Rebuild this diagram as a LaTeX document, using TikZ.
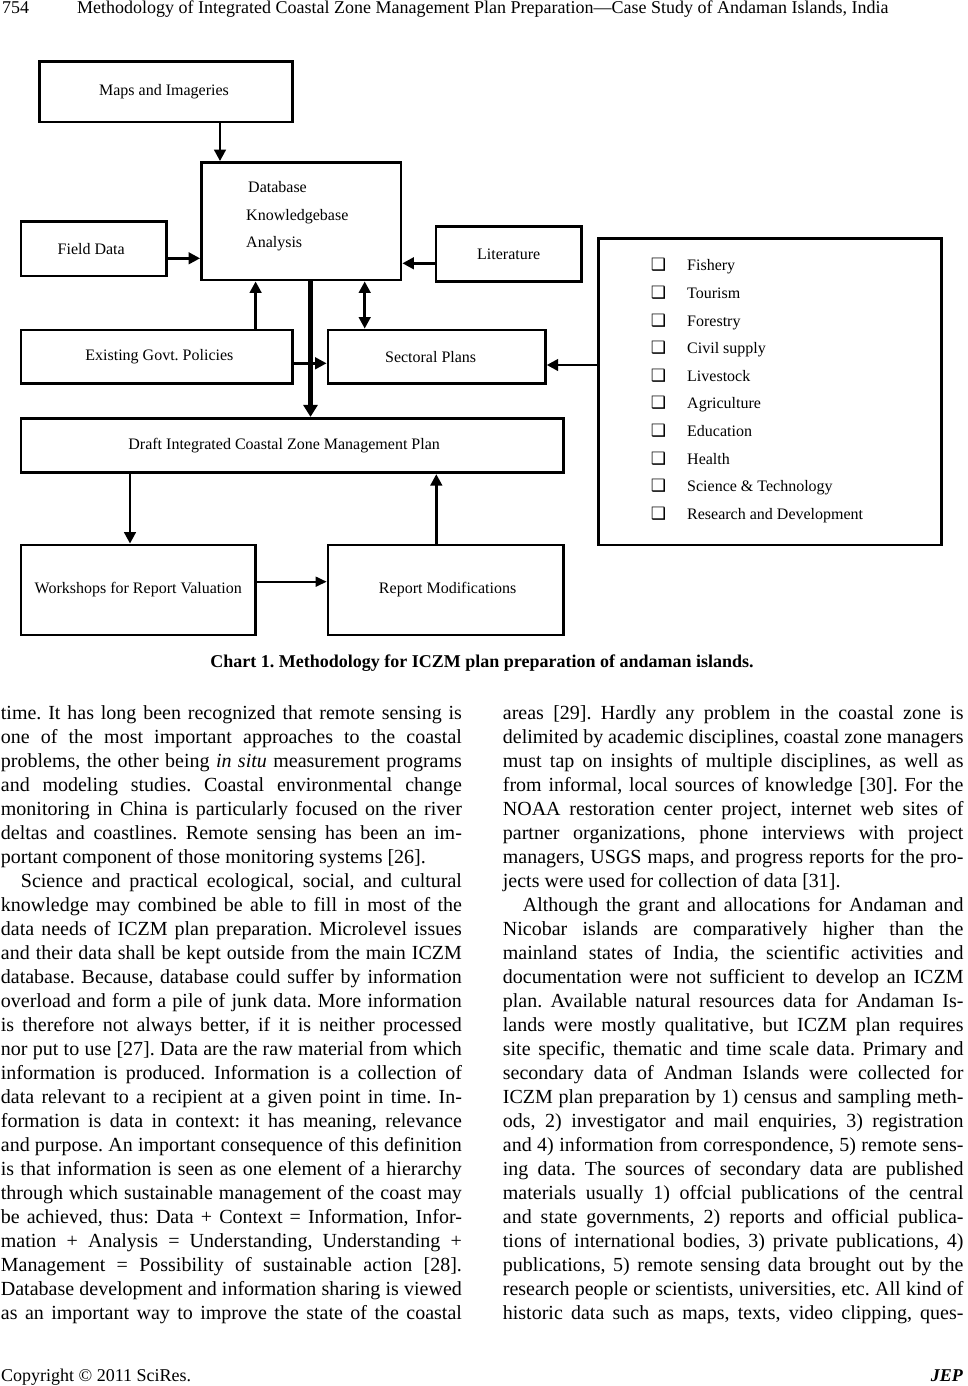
\documentclass[tikz,border=0pt]{standalone}
\usepackage{fontspec}
\setmainfont{Liberation Serif}
\newfontfamily\dejavu{DejaVu Sans}
\usetikzlibrary{arrows.meta}
\frenchspacing
\newcommand\JL[1]{\hbox to\hsize{#1}}
\newcommand\EL[1]{\hbox{#1}}
\newcommand\IL[1]{\hbox to\hsize{\hskip20pt #1}}
\tikzset{
  box/.style={draw, line width=2.8pt, inner sep=0pt, font=\fontsize{16}{18}\selectfont},
  arr/.style={line width=2.8pt, -{Triangle[length=11.5pt,width=11.5pt]}},
  darr/.style={line width=2.8pt, {Triangle[length=11.5pt,width=11.5pt]}-{Triangle[length=11.5pt,width=11.5pt]}},
  thickarr/.style={line width=5.4pt, -{Triangle[length=12pt,width=14pt]}},
  thinarr/.style={line width=1.8pt, -{Triangle[length=11pt,width=10pt]}},
  chk/.style={inner sep=0pt, font=\dejavu\fontsize{17}{19}\selectfont},
  txt/.style={inner sep=0pt, anchor=base west},
  dtxt/.style={txt, font=\fontsize{16}{18}\selectfont}
}
\begin{document}
\begin{tikzpicture}[x=1pt,y=-1pt]
\useasboundingbox (0,0) rectangle (967,1386);
\fill[white] (0,0) rectangle (967,1386);

% header
\node[txt, font=\fontsize{18}{20}\selectfont] (pg) at (2,13.5) {754};
\node[txt, font=\fontsize{18}{20}\selectfont] (title) at (77,13.5) {Methodology of Integrated Coastal Zone Management Plan Preparation—Case Study of Andaman Islands, India};

% diagram boxes
\node[box, minimum width=253pt, minimum height=60.5pt] (maps) at (166,91.75) {\kern-4pt Maps and Imageries};
\node[box, minimum width=199.5pt, minimum height=117.5pt] (db) at (301.25,221.25) {};
\node[dtxt] (dbt1) at (248,192.5) {Database};
\node[dtxt] (dbt2) at (246,220.5) {Knowledgebase};
\node[dtxt] (dbt3) at (246,247.5) {Analysis};
\node[box, minimum width=145.5pt, minimum height=54.3pt] (field) at (93.75,248.85) {\kern-5pt Field Data};
\node[box, minimum width=145.5pt, minimum height=54.8pt] (lit) at (508.75,254.1) {Literature};
\node[box, minimum width=271.8pt, minimum height=53.3pt] (exist) at (156.9,356.65) {Existing Govt. Policies\kern-5pt};
\node[box, minimum width=217.3pt, minimum height=53.3pt] (sect) at (436.65,356.65) {\kern-12pt Sectoral Plans};
\node[box, minimum width=343.4pt, minimum height=306.7pt] (sectors) at (770,391.65) {};
\node[box, minimum width=542.3pt, minimum height=54.4pt] (draft) at (292.15,445.5) {\kern-16pt Draft Integrated Coastal Zone Management Plan};
\node[box, minimum width=234.6pt, minimum height=90pt] (work) at (138.3,590) {Workshops for Report Valuation};
\node[box, minimum width=235.3pt, minimum height=90pt] (rep) at (445.65,590) {Report Modifications\kern-4pt};

% sector list
\foreach \i/\yy/\t in {1/270.5/Fishery,2/298.2/Tourism,3/326.2/Forestry,4/353.8/Civil supply,5/381.2/Livestock,6/408.2/Agriculture,7/436.2/Education,8/464.5/Health,9/491.5/Science \& Technology,10/519.5/Research and Development}{
  \node[chk, anchor=base] (c\i) at (658.5,\yy) {❑};
  \node[dtxt] (s\i) at (687,\yy) {\t};
}

% connector helper coordinates
\coordinate (xm) at (220,0);
\coordinate (yf) at (0,258.3);
\coordinate (yl) at (0,263.3);
\coordinate (xe) at (255.6,0);
\coordinate (xs) at (364.7,0);
\coordinate (xt) at (310.5,0);
\coordinate (ye) at (0,363.3);
\coordinate (ys) at (0,365);
\coordinate (xd) at (130,0);
\coordinate (yw) at (0,581.7);
\coordinate (xr) at (436.3,0);

\draw[arr] (maps.south -| xm) -- (db.north -| xm);
\draw[arr] (field.east |- yf) -- (db.west |- yf);
\draw[arr] (lit.west |- yl) -- (db.east |- yl);
\draw[arr] (exist.north -| xe) -- (db.south -| xe);
\draw[darr] (db.south -| xs) -- (sect.north -| xs);
\draw[arr] (exist.east |- ye) -- (sect.west |- ye);
\draw[arr] (sectors.west |- ys) -- (sect.east |- ys);
\draw[thickarr] (db.south -| xt) -- (draft.north -| xt);
\draw[arr] (draft.south -| xd) -- (work.north -| xd);
\draw[thinarr] (work.east |- yw) -- (rep.west |- yw);
\draw[arr] (rep.north -| xr) -- (draft.south -| xr);

% caption
\node[inner sep=0pt, anchor=base, font=\fontsize{18}{20}\selectfont\bfseries] (cap) at (482,667) {Chart 1. Methodology for ICZM plan preparation of andaman islands.};

% left column
\node[txt] (colL) at (0.7,719.5) {\parbox[t]{461pt}{\fontsize{20}{24}\selectfont
\JL{time. It has long been recognized that remote sensing is}
\JL{one of the most important approaches to the coastal}
\JL{problems, the other being \textit{in situ} measurement programs}
\JL{and modeling studies. Coastal environmental change}
\JL{monitoring in China is particularly focused on the river}
\JL{deltas and coastlines. Remote sensing has been an im-}
\EL{portant component of those monitoring systems [26].}
\IL{Science and practical ecological, social, and cultural}
\JL{knowledge may combined be able to fill in most of the}
\JL{data needs of ICZM plan preparation. Microlevel issues}
\JL{and their data shall be kept outside from the main ICZM}
\JL{database. Because, database could suffer by information}
\JL{overload and form a pile of junk data. More information}
\JL{is therefore not always better, if it is neither processed}
\JL{nor put to use [27]. Data are the raw material from which}
\JL{information is produced. Information is a collection of}
\JL{data relevant to a recipient at a given point in time. In-}
\JL{formation is data in context: it has meaning, relevance}
\JL{and purpose. An important consequence of this definition}
\JL{is that information is seen as one element of a hierarchy}
\JL{through which sustainable management of the coast may}
\JL{be achieved, thus: Data + Context = Information, Infor-}
\JL{mation + Analysis = Understanding, Understanding +}
\JL{Management = Possibility of sustainable action [28].}
\JL{Database development and information sharing is viewed}
\JL{as an important way to improve the state of the coastal}
}};

% right column
\node[txt] (colR) at (502.7,719.5) {\parbox[t]{460.6pt}{\fontsize{20}{24}\selectfont
\JL{areas [29]. Hardly any problem in the coastal zone is}
\JL{delimited by academic disciplines, coastal zone managers}
\JL{must tap on insights of multiple disciplines, as well as}
\JL{from informal, local sources of knowledge [30]. For the}
\JL{NOAA restoration center project, internet web sites of}
\JL{partner organizations, phone interviews with project}
\JL{managers, USGS maps, and progress reports for the pro-}
\EL{jects were used for collection of data [31].}
\IL{Although the grant and allocations for Andaman and}
\JL{Nicobar islands are comparatively higher than the}
\JL{mainland states of India, the scientific activities and}
\JL{documentation were not sufficient to develop an ICZM}
\JL{plan. Available natural resources data for Andaman Is-}
\JL{lands were mostly qualitative, but ICZM plan requires}
\JL{site specific, thematic and time scale data. Primary and}
\JL{secondary data of Andman Islands were collected for}
\JL{ICZM plan preparation by 1) census and sampling meth-}
\JL{ods, 2) investigator and mail enquiries, 3) registration}
\JL{and 4) information from correspondence, 5) remote sens-}
\JL{ing data. The sources of secondary data are published}
\JL{materials usually 1) offcial publications of the central}
\JL{and state governments, 2) reports and official publica-}
\JL{tions of international bodies, 3) private publications, 4)}
\JL{publications, 5) remote sensing data brought out by the}
\JL{research people or scientists, universities, etc. All kind of}
\JL{historic data such as maps, texts, video clipping, ques-}
}};

% footer
\node[txt, font=\fontsize{18}{20}\selectfont] (copy) at (1,1381) {Copyright © 2011 SciRes.};
\node[inner sep=0pt, anchor=base east, font=\fontsize{18}{20}\selectfont\bfseries\itshape] (jep) at (963,1381) {JEP};
\end{tikzpicture}
\end{document}
